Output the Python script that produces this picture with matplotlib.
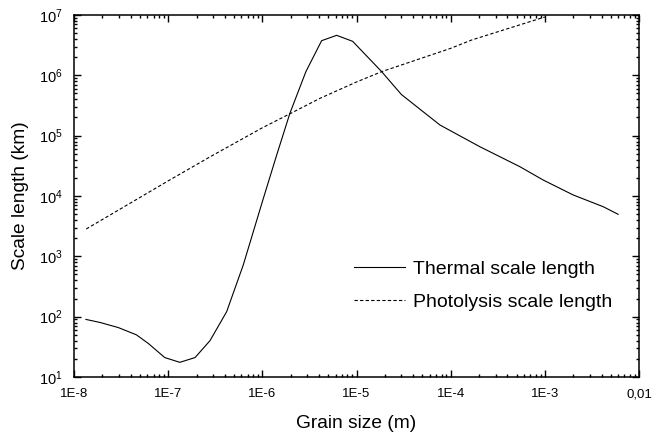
import math
import matplotlib
matplotlib.use("Agg")
import matplotlib.pyplot as plt
from matplotlib.ticker import FixedLocator, FixedFormatter, FuncFormatter, LogLocator, NullFormatter

plt.rcParams["font.family"] = ["Liberation Sans", "DejaVu Sans"]
plt.rcParams["mathtext.default"] = "regular"

# Thermal scale length vs grain size
thermal_size = [1.34e-8, 1.9e-8, 2.95e-8, 4.6e-8, 6.15e-8, 9.2e-8, 1.33e-7, 1.93e-7,
                2.78e-7, 4.18e-7, 6.27e-7, 1.02e-6, 1.42e-6, 1.96e-6, 2.9e-6, 4.26e-6,
                6.15e-6, 9.1e-6, 1.85e-5, 3.0e-5, 7.7e-5, 2.04e-4, 5.43e-4, 9.6e-4,
                2.0e-3, 4.16e-3, 6.0e-3]
thermal_len = [90, 80, 66, 50, 36, 21, 17.5, 21,
               40, 121, 718, 8900, 47700, 234000, 1.15e6, 3.75e6,
               4.6e6, 3.66e6, 1.15e6, 4.8e5, 1.5e5, 6.56e4, 3.06e4, 1.84e4,
               1.04e4, 6650, 4970]

# Photolysis scale length vs grain size
photo_size = [1.35e-8, 1.0e-7, 2.8e-7, 1.0e-6, 2.0e-6, 4.1e-6, 1.0e-5, 1.85e-5,
              1.0e-4, 1.67e-4, 1.0e-3]
photo_len = [2840, 17800, 44800, 135000, 234000, 416000, 776000, 1.15e6,
             2.8e6, 3.85e6, 9.27e6]

x_ticks = [1e-8, 1e-7, 1e-6, 1e-5, 1e-4, 1e-3, 1e-2]
x_labels = ["1E-8", "1E-7", "1E-6", "1E-5", "1E-4", "1E-3", "0,01"]

fig = plt.figure(figsize=(6.66, 4.37), dpi=100)
ax = fig.add_axes([0.1111, 0.1373, 0.8484, 0.8284])

ax.plot(thermal_size, thermal_len, color="black", lw=0.8, label="Thermal scale length")
ax.plot(photo_size, photo_len, color="black", lw=0.8, ls=(0, (3, 2)),
        label="Photolysis scale length")

ax.set_xscale("log")
ax.set_yscale("log")
ax.set_xlim(1e-8, 1e-2)
ax.set_ylim(1e1, 1e7)

ax.xaxis.set_major_locator(FixedLocator(x_ticks))
ax.xaxis.set_major_formatter(FixedFormatter(x_labels))
ax.xaxis.set_minor_locator(LogLocator(base=10, subs=range(2, 10), numticks=20))
ax.xaxis.set_minor_formatter(NullFormatter())
ax.yaxis.set_major_locator(FixedLocator([10.0 ** k for k in range(1, 8)]))
ax.yaxis.set_major_formatter(FuncFormatter(lambda v, p: r"$10^{%d}$" % round(math.log10(v))))
ax.yaxis.set_minor_locator(LogLocator(base=10, subs=range(2, 10), numticks=20))
ax.yaxis.set_minor_formatter(NullFormatter())

ax.tick_params(which="both", direction="in", top=True, right=True, width=1.0)
ax.tick_params(which="major", length=5, pad=8)
ax.tick_params(which="minor", length=2.5)
ax.tick_params(axis="x", labelsize=9.5)
ax.tick_params(axis="y", labelsize=10.5)
for s in ax.spines.values():
    s.set_linewidth(1.1)

ax.set_xlabel("Grain size (m)", fontsize=13.8, labelpad=11)
ax.set_ylabel("Scale length (km)", fontsize=13.8, labelpad=7)

ax.legend(loc="center left", bbox_to_anchor=(0.4956, 0.2517), frameon=False,
          fontsize=14, handlelength=2.6, handletextpad=0.45, labelspacing=0.78,
          borderpad=0, borderaxespad=0)

fig.savefig("out.png", dpi=100)
